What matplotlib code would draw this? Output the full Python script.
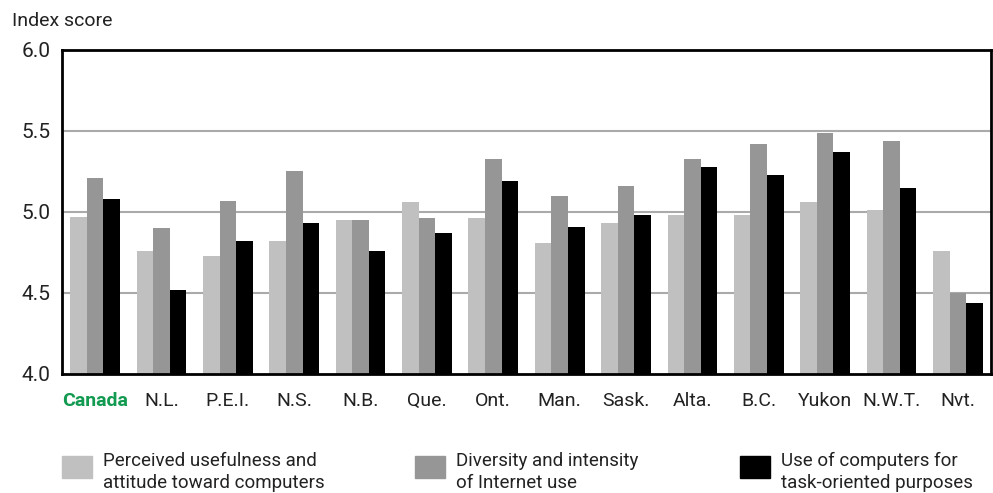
import numpy as np
import matplotlib
matplotlib.use("Agg")
import matplotlib.pyplot as plt
from matplotlib import font_manager
from matplotlib.patches import Rectangle

regions = ["Canada", "N.L.", "P.E.I.", "N.S.", "N.B.", "Que.", "Ont.",
           "Man.", "Sask.", "Alta.", "B.C.", "Yukon", "N.W.T.", "Nvt."]
useful = [4.97, 4.76, 4.73, 4.82, 4.95, 5.06, 4.96, 4.81, 4.93, 4.98, 4.98, 5.06, 5.01, 4.76]
internet = [5.21, 4.90, 5.07, 5.25, 4.95, 4.96, 5.33, 5.10, 5.16, 5.33, 5.42, 5.49, 5.44, 4.50]
tasks = [5.08, 4.52, 4.82, 4.93, 4.76, 4.87, 5.19, 4.91, 4.98, 5.28, 5.23, 5.37, 5.15, 4.44]
series_names = ["Perceived usefulness and\nattitude toward computers",
                "Diversity and intensity\nof Internet use",
                "Use of computers for\ntask-oriented purposes"]
colors = ["#c0c0c0", "#969696", "#000000"]
yticks = [4.0, 4.5, 5.0, 5.5, 6.0]

names = [f.name for f in font_manager.fontManager.ttflist]
if "Liberation Sans Narrow" in names:
    fam = ["Liberation Sans Narrow", "DejaVu Sans"]
else:
    fam = ["Roboto", "DejaVu Sans"]
plt.rcParams['font.family'] = fam

fig = plt.figure(figsize=(9.93, 4.93), dpi=100)
ax = fig.add_axes([0.0624, 0.2414, 0.9356, 0.6572])

x = np.arange(len(regions))
w = 0.25
for i, (vals, c) in enumerate(zip([useful, internet, tasks], colors)):
    ax.bar(x + (i - 1) * w, vals, w, color=c, zorder=2)

ax.set_ylim(4.0, 6.0)
ax.set_xlim(-0.5, len(regions) - 0.5)
ax.set_yticks(yticks)
ax.set_yticklabels([f"{v:.1f}" for v in yticks], fontsize=15, color="#222222")
ax.set_xticks(x)
ax.set_xticklabels(regions, fontsize=14, color="#222222")
ax.tick_params(axis="x", length=0, pad=13)
ax.tick_params(axis="y", length=0, pad=8)
lab = ax.get_xticklabels()[0]
lab.set_color("#119a50")
lab.set_fontweight("bold")
for v in [4.5, 5.0, 5.5]:
    ax.axhline(v, color="#aaaaaa", lw=1.5, zorder=1)
for s in ax.spines.values():
    s.set_linewidth(2)
    s.set_color("black")

fig.text(0.012, 0.958, "Index score", fontsize=14, color="#222222", va="center")

# legend
W, H = 993, 493
leg_x = [62, 415, 740]
for lx, name, c in zip(leg_x, series_names, colors):
    fig.patches.append(Rectangle((lx / W, 1 - 478 / H), 30 / W, 22 / H,
                                 transform=fig.transFigure, color=c))
    fig.text((lx + 41) / W, 1 - 472 / H, name, fontsize=13.5, color="#222222",
             va="center", linespacing=1.35)

fig.savefig("out.png", dpi=100)
